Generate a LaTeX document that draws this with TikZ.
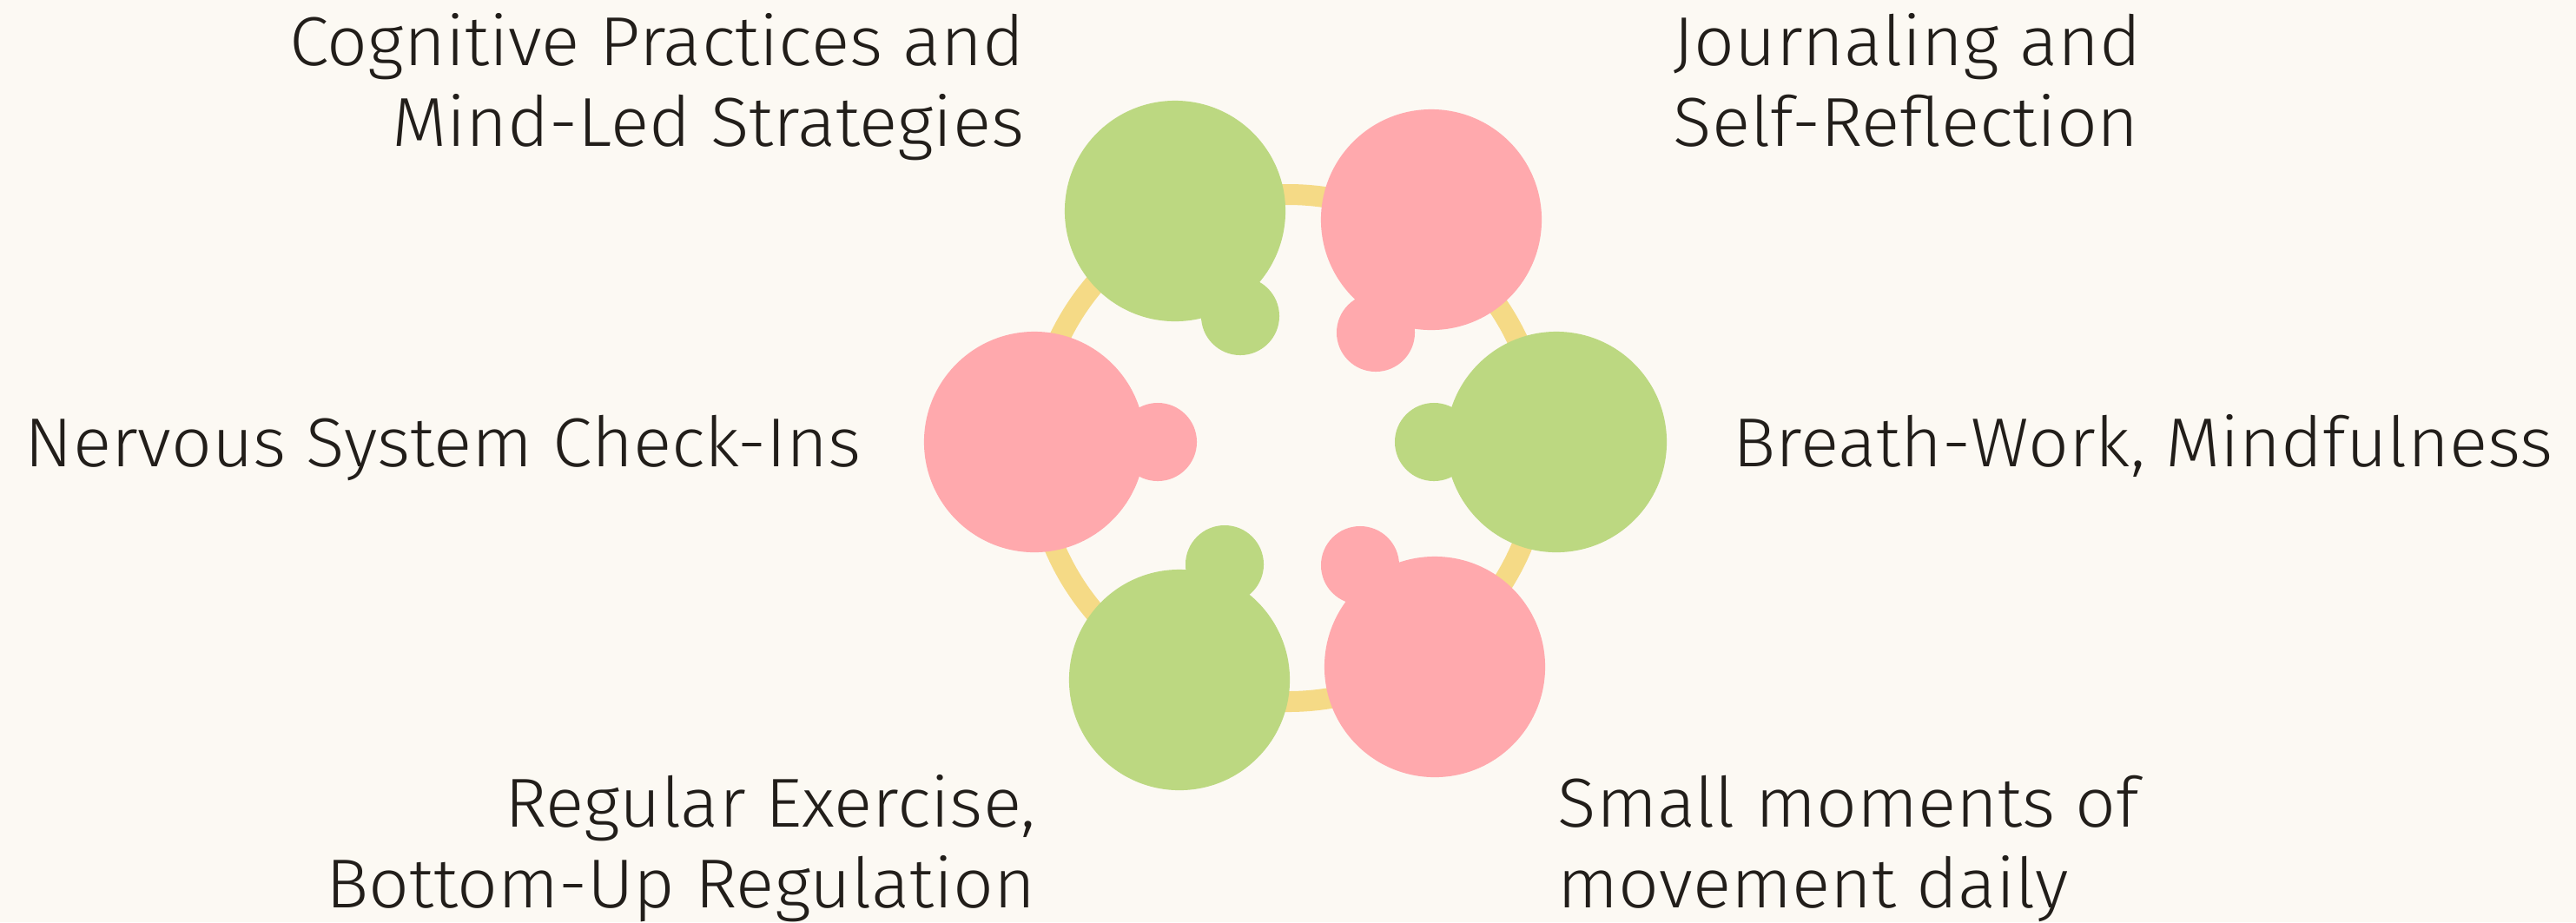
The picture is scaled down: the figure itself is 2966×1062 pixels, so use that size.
\documentclass[tikz,border=0pt]{standalone}
\usepackage{fontspec}
\setmainfont{Fira Sans Light}[FakeStretch=1.03]
\definecolor{paper}{HTML}{FCF9F3}
\definecolor{leaf}{HTML}{BCD881}
\definecolor{rose}{HTML}{FFA9AD}
\definecolor{sand}{HTML}{F5DA86}
\definecolor{ink}{HTML}{221E1A}
\begin{document}
\begin{tikzpicture}[
      x=0.01cm, y=-0.01cm,
      every node/.style={inner sep=0pt,font=\fontsize{22.7}{26.2}\selectfont,text=ink},
      big/.style={circle,minimum size=2.54cm},
      dot/.style={circle,minimum size=0.9cm},
      green/.style={fill=leaf},
      pink/.style={fill=rose}
    ]
      \useasboundingbox (0,0) rectangle (2966,1062);
      \fill[paper] (0,0) rectangle (2966,1062);
      % ring behind the circles
      \draw[sand,line width=0.24cm] (1483,516) circle[radius=292];

      \node[big,green] (cog) at (1353,243) {};
      \node[big,pink] (jour) at (1648,253) {};
      \node[big,pink] (nerv) at (1191,509) {};
      \node[big,green] (breath) at (1792,509) {};
      \node[big,green] (exer) at (1358,783) {};
      \node[big,pink] (move) at (1652,768) {};

      \node[dot,green] (cogdot) at (1428,364) {};
      \node[dot,pink] (jourdot) at (1584,383) {};
      \node[dot,pink] (nervdot) at (1333,509) {};
      \node[dot,green] (breathdot) at (1651,509) {};
      \node[dot,green] (exerdot) at (1410,650) {};
      \node[dot,pink] (movedot) at (1566,651) {};

      % labels (base = last line)
      \node[anchor=base east,align=right] (coglabel) at (1180,168)
        {Cognitive Practices and\\Mind-Led Strategies};
      \node[anchor=base west,align=left] (jourlabel) at (1926,168)
        {Journaling and\\Self-Reflection};
      \node[anchor=base west] (nervlabel) at (28,537) {Nervous System Check-Ins};
      \node[anchor=base west] (breathlabel) at (1995,537) {Breath-Work, Mindfulness};
      \node[anchor=base east,align=right] (exerlabel) at (1193,1045)
        {Regular Exercise,\\Bottom-Up Regulation};
      \node[anchor=base west,align=left] (movelabel) at (1793,1045)
        {Small moments of\\movement daily};
    \end{tikzpicture}
\end{document}
